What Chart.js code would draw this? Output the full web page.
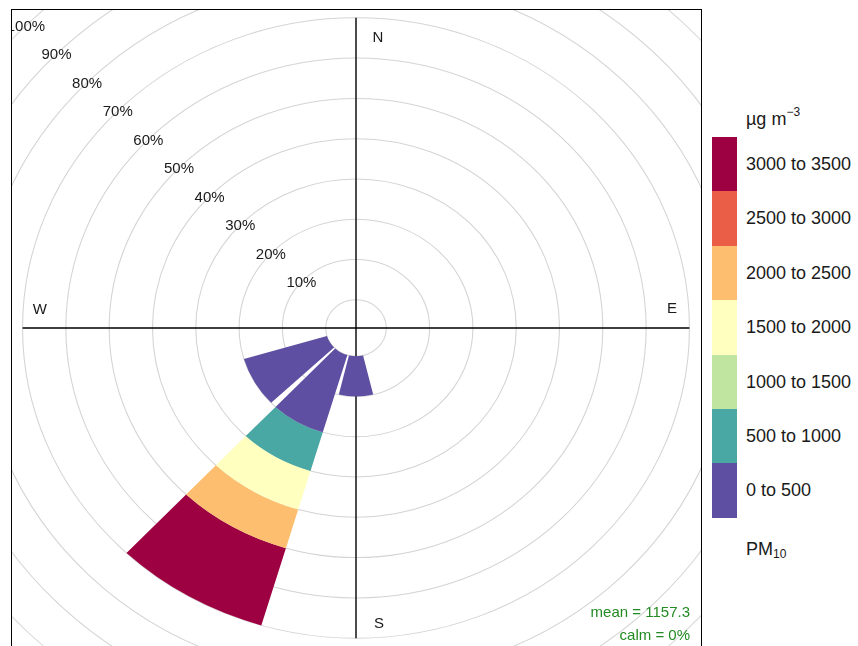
<!DOCTYPE html>
<html>
<head>
<meta charset="utf-8">
<script src="https://cdn.jsdelivr.net/npm/chart.js@4/dist/chart.umd.min.js"></script>
<style>
  body { margin: 0; background: #fff; font-family: "Liberation Sans", Arial, sans-serif; color: #1a1a1a; }
  #wrap { position: relative; width: 858px; height: 646px; overflow: hidden; }
  #panel { position: absolute; left: 11px; top: 9px; width: 689px; height: 700px; border: 1px solid #000; overflow: hidden; }
  #rose { position: absolute; left: -87px; top: -113px; }
  .stat { position: absolute; right: 168px; font-size: 15px; line-height: 17px; color: #228b22; white-space: nowrap; }
  .leg { position: absolute; font-size: 18px; line-height: 20px; white-space: nowrap; }
  .box { position: absolute; left: 712px; width: 25px; }
  sup { font-size: 12px; vertical-align: 9px; }
  sub { font-size: 12px; vertical-align: -3px; }
</style>
</head>
<body>
<div id="wrap">
  <div id="panel"><canvas id="rose" width="862" height="862"></canvas></div>
  <div class="stat" style="top:603px">mean = 1157.3</div>
  <div class="stat" style="top:626px">calm = 0%</div>
  <div class="leg" style="left:746px; top:102px">µg m<sup>−3</sup></div>
  <div id="legend"></div>
  <div class="leg" style="left:746px; top:539px">PM<sub>10</sub></div>
</div>
<script>
// wind direction sectors (degrees, centre of each 30 degree sector)
const directions = [0, 30, 60, 90, 120, 150, 180, 210, 240, 270, 300, 330];

// concentration bands (µg m-3) and their colours
const bandLabels = ['0 to 500', '500 to 1000', '1000 to 1500', '1500 to 2000', '2000 to 2500', '2500 to 3000', '3000 to 3500'];
const bandColors = ['#5e4fa2', '#4aa8a4', '#bfe5a0', '#ffffbf', '#fdbf6f', '#ea5d47', '#9e0142'];

// % of time in each band, per direction sector
const pct0to500     = [0, 0, 0, 0, 0, 0, 10, 20, 20, 0, 0, 0];
const pct500to1000  = [0, 0, 0, 0, 0, 0, 0, 10, 0, 0, 0, 0];
const pct1000to1500 = [0, 0, 0, 0, 0, 0, 0, 0, 0, 0, 0, 0];
const pct1500to2000 = [0, 0, 0, 0, 0, 0, 0, 10, 0, 0, 0, 0];
const pct2000to2500 = [0, 0, 0, 0, 0, 0, 0, 10, 0, 0, 0, 0];
const pct2500to3000 = [0, 0, 0, 0, 0, 0, 0, 0, 0, 0, 0, 0];
const pct3000to3500 = [0, 0, 0, 0, 0, 0, 0, 20, 0, 0, 0, 0];

// radial axis
const ringTicks = [0, 10, 20, 30, 40, 50, 60, 70, 80, 90, 100];
const calmOffset = 7;      // empty hole in the middle, in % units
const axisLength = 70;     // cross lines reach this ring
const stretchX = 1.075;    // plot is a little wider than tall
const gapDeg = 1.5;        // white gap on each side of a wedge

const bandSeries = [pct0to500, pct500to1000, pct1000to1500, pct1500to2000, pct2000to2500, pct2500to3000, pct3000to3500];

// stack the bands: each dataset holds the running total
let running = directions.map(() => 0);
const datasets = bandSeries.map((series, k) => {
    running = running.map((v, i) => v + series[i]);
    return {
        label: bandLabels[k],
        data: running.slice(),
        backgroundColor: bandColors[k],
        borderWidth: 0
    };
});

// legend boxes, top is highest band
const legendEl = document.getElementById('legend');
const boxH = 54.4;
bandLabels.slice().reverse().forEach((label, k) => {
    const top = 137 + k * boxH;
    const box = document.createElement('div');
    box.className = 'box';
    box.style.top = top + 'px';
    box.style.height = (boxH + 0.5) + 'px';
    box.style.background = bandColors[bandLabels.length - 1 - k];
    legendEl.appendChild(box);
    const txt = document.createElement('div');
    txt.className = 'leg';
    txt.style.left = '746px';
    txt.style.top = (top + 17) + 'px';
    txt.textContent = label;
    legendEl.appendChild(txt);
});

const roseExtras = {
    id: 'roseExtras',
    // turn the overlapping arcs into stacked rings with gaps between sectors
    afterDatasetsUpdate(chart) {
        const scale = chart.scales.r;
        const gap = gapDeg * Math.PI / 180;
        chart.data.datasets.forEach((ds, di) => {
            const meta = chart.getDatasetMeta(di);
            meta.data.forEach((arc, i) => {
                const below = di === 0 ? 0 : chart.data.datasets[di - 1].data[i];
                arc.innerRadius = scale.getDistanceFromCenterForValue(below);
                arc.startAngle += gap;
                arc.endAngle -= gap;
            });
        });
    },
    beforeDraw(chart) {
        const s = chart.scales.r;
        const ctx = chart.ctx;
        ctx.save();
        ctx.translate(s.xCenter, 0);
        ctx.scale(stretchX, 1);
        ctx.translate(-s.xCenter, 0);
    },
    beforeDatasetsDraw(chart) {
        const s = chart.scales.r;
        const ctx = chart.ctx;
        const d = s.getDistanceFromCenterForValue(axisLength);
        ctx.save();
        ctx.strokeStyle = '#000';
        ctx.lineWidth = 1.3;
        ctx.beginPath();
        ctx.moveTo(s.xCenter, s.yCenter - d);
        ctx.lineTo(s.xCenter, s.yCenter + d);
        ctx.moveTo(s.xCenter - d, s.yCenter);
        ctx.lineTo(s.xCenter + d, s.yCenter);
        ctx.stroke();
        ctx.restore();
    },
    afterDatasetsDraw(chart) {
        const s = chart.scales.r;
        const ctx = chart.ctx;
        ctx.restore();
        ctx.save();
        ctx.fillStyle = '#1a1a1a';
        ctx.font = '15px "Liberation Sans", Arial, sans-serif';
        ctx.textAlign = 'center';
        ctx.textBaseline = 'alphabetic';
        // ring labels along the NW diagonal
        ringTicks.slice(1).forEach(v => {
            const d = s.getDistanceFromCenterForValue(v) * Math.SQRT1_2;
            ctx.fillText(v + '%', s.xCenter - d * stretchX - 2.5, s.yCenter - d + 7.5);
        });
        // compass letters
        const dc = s.getDistanceFromCenterForValue(66);
        ctx.fillText('N', s.xCenter + 22, s.yCenter - dc + 8);
        ctx.fillText('S', s.xCenter + 23, s.yCenter + dc + 6);
        ctx.fillText('W', s.xCenter - dc * stretchX, s.yCenter - 14);
        ctx.fillText('E', s.xCenter + dc * stretchX, s.yCenter - 15);
        ctx.restore();
    }
};

new Chart(document.getElementById('rose'), {
    type: 'polarArea',
    data: {
        labels: directions.map(String),
        datasets: datasets
    },
    options: {
        responsive: false,
        animation: false,
        layout: { padding: 0 },
        plugins: {
            legend: { display: false },
            tooltip: { enabled: false }
        },
        scales: {
            r: {
                min: -calmOffset,
                max: 100,
                startAngle: -15,
                angleLines: { display: false },
                pointLabels: { display: false },
                ticks: { display: false },
                grid: { circular: true, color: '#d4d4d4', lineWidth: 1 },
                afterBuildTicks: scale => {
                    scale.ticks = [-calmOffset].concat(ringTicks).map(v => ({ value: v }));
                }
            }
        }
    },
    plugins: [roseExtras]
});
</script>
</body>
</html>
